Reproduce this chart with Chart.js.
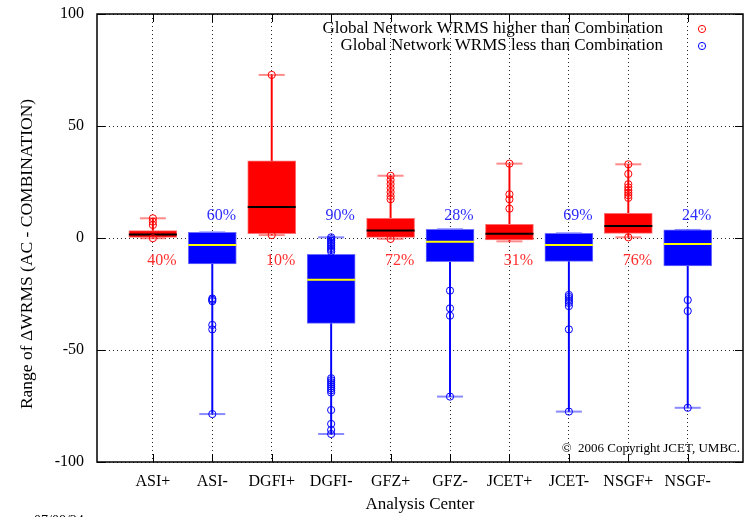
<!DOCTYPE html>
<html><head><meta charset="utf-8">
<script src="https://cdn.jsdelivr.net/npm/chart.js@4/dist/chart.umd.min.js"></script>
<style>html,body{margin:0;padding:0;background:#fff;}</style>
</head><body>
<canvas id="c" width="750" height="517"></canvas>
<script>
const categories = ['ASI+','ASI-','DGFI+','DGFI-','GFZ+','GFZ-','JCET+','JCET-','NSGF+','NSGF-'];
const whiskerLow  = [-0.1, -78.6,  1.3, -87.5, -0.4, -70.8, -1.5, -77.5,  0.3, -75.8];
const quartile1   = [ 0.3, -11.6,  1.9, -38.1,  0.3, -10.6, -0.9, -10.4,  2.1, -12.5];
const medians     = [ 1.6,  -3.1, 13.8, -18.6,  3.4,  -1.7,  1.9,  -3.1,  5.4,  -2.7];
const quartile3   = [ 3.3,   2.5, 34.5,  -7.3,  8.8,   3.9,  6.1,   2.1, 11.0,   3.6];
const whiskerHigh = [ 8.8,   2.5, 72.8,   0.3, 27.8,   3.9, 33.2,   2.1, 32.9,   3.6];
const outliers = [
  [8.8, 7.3, 5.8, -0.1],
  [-27.0, -27.6, -28.2, -38.8, -40.8, -78.6],
  [72.8, 1.3],
  [0.3, -0.5, -1.2, -2.0, -2.8, -3.6, -4.5, -5.3, -6.1, -62.6, -63.5, -64.4, -65.3, -66.2, -67.1, -68.0, -69.0, -76.8, -83.0, -85.7, -87.5],
  [27.8, 25.9, 24.1, 22.3, 20.5, 18.75, 17.3, -0.4],
  [-23.5, -31.4, -34.7, -70.8],
  [33.2, 19.5, 17.3, 13.1],
  [-25.4, -26.3, -27.2, -28.1, -29.0, -30.4, -40.8, -77.5],
  [32.9, 28.6, 24.0, 22.6, 21.4, 20.2, 19.1, 17.9, 0.3],
  [-27.7, -32.6, -75.8]
];
const percentLabels = ['40%','60%','10%','90%','72%','28%','31%','69%','76%','24%'];
const yTicks = [-100, -50, 0, 50, 100];
const legendLabels = ['Global Network WRMS higher than Combination','Global Network WRMS less than Combination'];

const RED = '#ff0000', BLUE = '#0000ff';
const idxRed = categories.map((c,i)=>i).filter(i=>i%2===0);
const idxBlue = categories.map((c,i)=>i).filter(i=>i%2===1);
const FONT = '"Liberation Serif", "DejaVu Serif", serif';

function group(idx, color, medColor, capColor, legendLabel){
  return [
    {type:'bar', order:5, grouped:false, barThickness:1.3, backgroundColor:color, borderWidth:0,
     data: idx.map(i=>({x:i, y:[whiskerLow[i], whiskerHigh[i]]}))},
    {type:'scatter', order:4, pointStyle:'line', pointRadius:13, borderColor:capColor, borderWidth:2,
     data: idx.flatMap(i=>[{x:i,y:whiskerLow[i]},{x:i,y:whiskerHigh[i]}])},
    {type:'bar', order:3, grouped:false, barThickness:48, backgroundColor:color,
     borderColor: color===RED ? 'rgba(255,110,110,1)' : 'rgba(110,110,255,1)', borderWidth:1, borderSkipped:false,
     data: idx.map(i=>({x:i, y:[quartile1[i], quartile3[i]]}))},
    {type:'scatter', order:2, pointStyle:'line', pointRadius:24, borderColor:medColor, borderWidth:2,
     data: idx.map(i=>({x:i, y:medians[i]}))},
    {type:'scatter', order:1, label:legendLabel, inLegend:true, pointStyle:'circle', pointRadius:3.6,
     borderColor:color, backgroundColor:'rgba(0,0,0,0)', borderWidth:1,
     data: idx.flatMap(i=>outliers[i].map(v=>({x:i, y:v})))}
  ];
}

const decor = {
  id:'decor',
  afterDraw(chart){
    const {ctx, chartArea:a, scales:{x, y}} = chart;
    ctx.save();
    const line=(x1,y1,x2,y2)=>{ctx.beginPath();ctx.moveTo(x1,y1);ctx.lineTo(x2,y2);ctx.stroke();};
    ctx.strokeStyle='#000'; ctx.lineWidth=1;
    x.ticks.forEach(t=>{const px=Math.round(x.getPixelForValue(t.value))+0.5; line(px,a.bottom,px,a.bottom-8); line(px,a.top,px,a.top+8);});
    y.ticks.forEach(t=>{const py=Math.round(y.getPixelForValue(t.value))+0.5; line(a.left,py,a.left+8,py); line(a.right,py,a.right-8,py);});
    ctx.lineWidth=1.5;
    ctx.strokeRect(a.left, a.top, a.right-a.left, a.bottom-a.top);
    // percent labels
    ctx.font='16px '+FONT; ctx.textAlign='center'; ctx.textBaseline='middle';
    percentLabels.forEach((p,i)=>{
      const red = i%2===0;
      ctx.fillStyle = red ? 'rgb(255,45,45)' : 'rgb(45,45,255)';
      ctx.fillText(p, x.getPixelForValue(i)+9, y.getPixelForValue(red ? -10.3 : 9.9));
    });
    // legend
    const legendSets = chart.data.datasets.filter(d=>d.inLegend);
    legendSets.forEach((d,k)=>{
      const ly = a.top + 15 + k*17;
      ctx.fillStyle='#000'; ctx.textAlign='right'; ctx.font='17px '+FONT;
      ctx.fillText(d.label, 663, ly);
      ctx.strokeStyle=d.borderColor; ctx.lineWidth=1;
      ctx.beginPath(); ctx.arc(702, ly, 3.6, 0, Math.PI*2); ctx.stroke();
      ctx.beginPath(); ctx.arc(702, ly, 0.8, 0, Math.PI*2); ctx.fillStyle=d.borderColor; ctx.fill();
    });
    // axis titles
    ctx.fillStyle='#000'; ctx.textAlign='center'; ctx.font='17px '+FONT;
    ctx.fillText('Analysis Center', (a.left+a.right)/2, 505);
    ctx.font='17.5px '+FONT;
    ctx.save(); ctx.translate(27, 254); ctx.rotate(-Math.PI/2);
    ctx.fillText('Range of \u0394WRMS (AC - COMBINATION)', 0, 0); ctx.restore();
    // copyright
    ctx.font='13px '+FONT; ctx.textAlign='right';
    ctx.fillText('\u00A9  2006 Copyright JCET, UMBC.', 740, 449);
    // date (cut off at bottom)
    ctx.textAlign='left'; ctx.font='14px '+FONT;
    ctx.fillText('07/08/24', 34, 521);
    ctx.restore();
  }
};

new Chart(document.getElementById('c'), {
  type:'bar',
  data:{ datasets:[ ...group(idxRed, RED, '#000000', 'rgba(255,60,60,0.6)', legendLabels[0]),
                    ...group(idxBlue, BLUE, '#ffff00', 'rgba(60,60,255,0.6)', legendLabels[1]) ] },
  options:{
    responsive:false, animation:false, events:[], devicePixelRatio:1,
    layout:{autoPadding:false, padding:{top:14, right:7, left:0, bottom:0}},
    plugins:{legend:{display:false}, tooltip:{enabled:false}},
    scales:{
      x:{type:'linear', min:-0.94, max:9.93, offset:false,
         ticks:{stepSize:1, includeBounds:false, autoSkip:false, maxRotation:0, padding:10,
                color:'#000', font:{family:FONT, size:16},
                callback:v=>categories[v] ?? ''},
         grid:{offset:false, color:'rgba(0,0,0,0.85)', lineWidth:1, drawTicks:false},
         border:{display:false, dash:[1,3]},
         afterFit:s=>{s.height=55; s.paddingLeft=0; s.paddingRight=0;}},
      y:{type:'linear', min:-100, max:100,
         afterBuildTicks:s=>{s.ticks = yTicks.map(v=>({value:v}));},
         ticks:{padding:13, color:'#000', font:{family:FONT, size:16}},
         grid:{color:'rgba(0,0,0,0.85)', lineWidth:1, drawTicks:false},
         border:{display:false, dash:[1,3]},
         afterFit:s=>{s.width=97; s.paddingTop=0; s.paddingBottom=0;}}
    }
  },
  plugins:[decor]
});
</script>
</body></html>
